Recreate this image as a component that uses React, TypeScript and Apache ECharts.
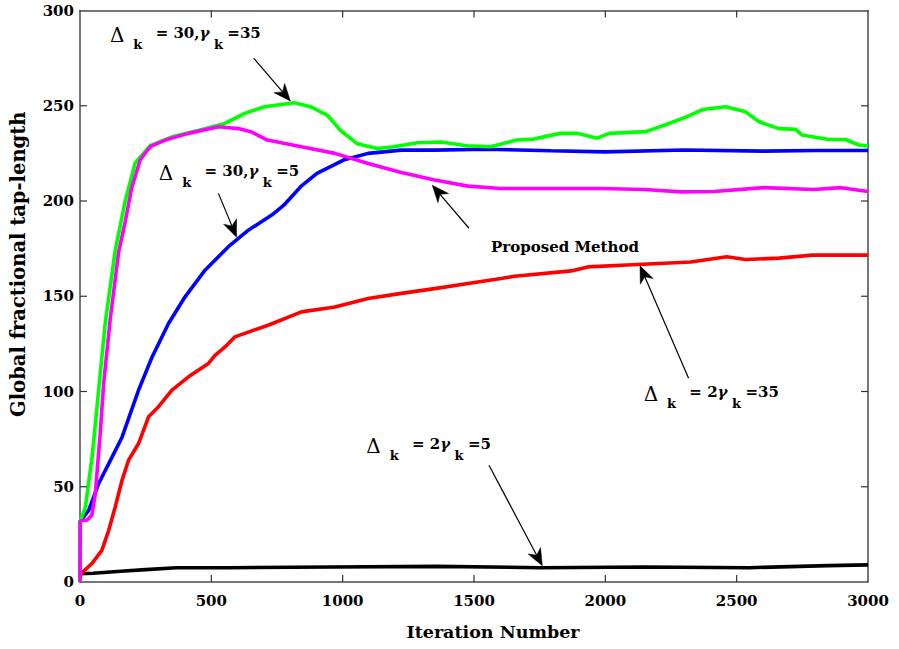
import React, { useEffect, useRef } from "react";
import * as echarts from "echarts";

// ---- data ----
const xTicks = { min: 0, max: 3000, interval: 500 };
const yTicks = { min: 0, max: 300, interval: 50 };

const proposedIter = [0, 1, 27, 45, 58, 77, 90, 115, 147, 172, 197, 229, 267, 324, 413, 527, 603, 650, 713, 843, 970, 1097, 1223, 1350, 1477, 1603, 1730, 1983, 2150, 2287, 2413, 2603, 2793, 2897, 3000];
const proposedVal = [0, 32, 32.5, 35, 46, 78, 104, 138, 173, 189, 207, 221.5, 228.5, 232, 235.5, 239, 238, 236.4, 232, 228.5, 225, 219.7, 215, 211, 207.8, 206.6, 206.6, 206.6, 206, 204.8, 205, 207, 206, 207, 205];

const g30_35Iter = [0, 1, 20, 46, 71, 96, 134, 172, 210, 267, 350, 450, 551, 627, 703, 815, 878, 942, 992, 1056, 1132, 1195, 1284, 1373, 1474, 1562, 1663, 1727, 1828, 1892, 1968, 2015, 2154, 2230, 2306, 2370, 2458, 2534, 2585, 2661, 2725, 2749, 2851, 2914, 2965, 3000];
const g30_35Val = [0, 32, 39, 65.6, 100.7, 136, 174, 200, 220, 229, 233.7, 237, 240.7, 246, 249.5, 251.6, 249.5, 245, 237, 230, 227.6, 228.5, 230.6, 231, 229, 228.5, 232, 232.5, 235.5, 235.5, 233, 235.5, 236.4, 240, 244, 248, 249.5, 246.8, 241.6, 238, 237.6, 234.6, 232.3, 232.3, 229.4, 229];

const g30_5Iter = [0, 1, 33, 71, 109, 160, 223, 274, 337, 400, 476, 565, 641, 730, 776, 840, 902, 1003, 1097, 1223, 1350, 1540, 1793, 2000, 2300, 2600, 2800, 3000];
const g30_5Val = [0, 32, 37.6, 51.7, 62, 76, 100.7, 118, 135.7, 149.7, 163.7, 176, 184.7, 192.6, 197.8, 207.5, 214.5, 221.5, 225, 226.7, 226.7, 227.2, 226.4, 225.8, 226.8, 226.2, 226.5, 226.5];

const g2_35Iter = [0, 1, 8, 46, 83, 109, 134, 160, 185, 223, 261, 299, 350, 413, 489, 514, 552, 590, 716, 843, 970, 1097, 1223, 1350, 1477, 1603, 1654, 1870, 1933, 2123, 2325, 2462, 2534, 2661, 2787, 3000];
const g2_35Val = [0, 4, 5, 9.8, 16.6, 27, 39.4, 53.4, 64, 72.7, 86.7, 92, 100.7, 107.7, 114.7, 119, 123.4, 128.7, 134.8, 141.8, 144.4, 148.8, 151.5, 154, 156.7, 159.3, 160.5, 163.3, 165.4, 166.7, 168, 170.7, 169.3, 170, 171.6, 171.6];

const g2_5Iter = [0, 1, 50, 168, 250, 367, 565, 961, 1358, 1755, 2152, 2548, 2847, 3000];
const g2_5Val = [0, 4.4, 4.6, 5.8, 6.5, 7.5, 7.5, 7.9, 8.2, 7.5, 7.9, 7.5, 8.6, 9];

// annotations: text anchor (left, middle), arrow tail and arrow tip, all in data coords
const annotations = [
  { label: "d30_35", text: [114, 285.5], tail: [661, 275], tip: [801, 252.5] },
  { label: "d30_5", text: [300, 213], tail: [527, 204], tip: [596, 181] },
  { label: "proposed", text: [1565, 176], tail: [1481, 185.7], tip: [1341, 208.3] },
  { label: "d2_35", text: [2146, 97], tail: [2317, 107], tip: [2132, 166] },
  { label: "d2_5", text: [1090, 69.7], tail: [1557, 61.3], tip: [1760, 8.5] },
];

const labelTexts: Record<string, string> = {
  d30_35: "{d|Δ}{sp|  }{s|k}{sp|   }{n|= 30,}{g|γ}{sp| }{s|k}{sp| }{n|=35}",
  d30_5: "{d|Δ}{sp|  }{s|k}{sp|   }{n|= 30,}{g|γ}{sp| }{s|k}{sp| }{n|=5}",
  d2_35: "{d|Δ}{sp|  }{s|k}{sp|   }{n|= 2}{g|γ}{sp| }{s|k}{sp| }{n|=35}",
  d2_5: "{d|Δ}{sp|  }{s|k}{sp|   }{n|= 2}{g|γ}{sp| }{s|k}{sp| }{n|=5}",
  proposed: "{p|Proposed Method}",
};

const zip = (a: number[], b: number[]) => a.map((v, i) => [v, b[i]]);

const FONT = "DejaVu Serif";

export default function App() {
  const ref = useRef<HTMLDivElement>(null);
  useEffect(() => {
    if (!ref.current) return;
    const chart = echarts.init(ref.current, undefined, { renderer: "svg" });
    const axisLineStyle = { color: "#4a4a4a", width: 1.5 };
    const lineSeries = (name: string, data: number[][], color: string) => ({
      name,
      type: "line",
      data,
      showSymbol: false,
      symbol: "none",
      smooth: false,
      lineStyle: { color, width: 3.6 },
      xAxisIndex: 0,
      yAxisIndex: 0,
    });
    const baseX = {
      type: "value",
      min: xTicks.min,
      max: xTicks.max,
      interval: xTicks.interval,
      axisLine: { show: true, onZero: false, lineStyle: axisLineStyle },
      axisTick: { show: false },
      splitLine: { show: false },
    };
    const baseY = {
      type: "value",
      min: yTicks.min,
      max: yTicks.max,
      interval: yTicks.interval,
      axisLine: { show: true, onZero: false, lineStyle: axisLineStyle },
      axisTick: { show: false },
      splitLine: { show: false },
    };
    chart.setOption({
      animation: false,
      backgroundColor: "#ffffff",
      grid: { left: 78, right: 31, top: 10.5, bottom: 67, containLabel: false },
      xAxis: [
        {
          ...baseX,
          position: "bottom",
          name: "Iteration Number",
          nameLocation: "middle",
          nameGap: 41,
          nameTextStyle: {
            fontFamily: FONT,
            fontWeight: "bold",
            fontSize: 17.5,
            color: "#000",
            padding: [0, 0, 0, 38],
          },
          axisLabel: {
            fontFamily: FONT,
            fontWeight: "bold",
            fontSize: 15,
            color: "#000",
            margin: 11,
            formatter: (v: number) => String(v),
          },
        },
        { ...baseX, position: "top", axisLabel: { show: false } },
      ],
      yAxis: [
        {
          ...baseY,
          position: "left",
          name: "Global fractional tap-length",
          nameLocation: "middle",
          nameGap: 52,
          nameTextStyle: {
            fontFamily: FONT,
            fontWeight: "bold",
            fontSize: 19.5,
            color: "#000",
            padding: [0, 0, 0, 64],
          },
          axisLabel: {
            fontFamily: FONT,
            fontWeight: "bold",
            fontSize: 15,
            color: "#000",
            margin: 6,
            formatter: (v: number) => String(v),
          },
        },
        { ...baseY, position: "right", axisLabel: { show: false } },
      ],
      series: [
        lineSeries("Δk=2, γk=5", zip(g2_5Iter, g2_5Val), "#000000"),
        lineSeries("Δk=2, γk=35", zip(g2_35Iter, g2_35Val), "#ff0000"),
        lineSeries("Δk=30, γk=5", zip(g30_5Iter, g30_5Val), "#0000ff"),
        lineSeries("Δk=30, γk=35", zip(g30_35Iter, g30_35Val), "#00ff00"),
        lineSeries("Proposed Method", zip(proposedIter, proposedVal), "#ff00ff"),
      ],
    });

    const toPx = (p: number[]) => chart.convertToPixel({ xAxisIndex: 0, yAxisIndex: 0 }, p) as number[];
    const graphics: any[] = [];

    // inside tick marks on all four sides, placed through the axes' scales
    const TL = 7;
    const tickLine = (x1: number, y1: number, x2: number, y2: number) =>
      graphics.push({
        type: "line",
        z: 50,
        shape: { x1, y1, x2, y2 },
        style: { stroke: "#333333", lineWidth: 1.2 },
      });
    const [, yBottom] = toPx([xTicks.min, yTicks.min]);
    const [, yTop] = toPx([xTicks.min, yTicks.max]);
    const [xLeft] = toPx([xTicks.min, yTicks.min]);
    const [xRight] = toPx([xTicks.max, yTicks.min]);
    for (let v = xTicks.min + xTicks.interval; v < xTicks.max; v += xTicks.interval) {
      const [x] = toPx([v, yTicks.min]);
      tickLine(x, yBottom, x, yBottom - TL);
      tickLine(x, yTop, x, yTop + TL);
    }
    for (let v = yTicks.min + yTicks.interval; v < yTicks.max; v += yTicks.interval) {
      const [, y] = toPx([xTicks.min, v]);
      tickLine(xLeft, y, xLeft + TL, y);
      tickLine(xRight, y, xRight - TL, y);
    }

    const rich = {
      d: { fontFamily: FONT, fontSize: 20, fontWeight: "normal", lineHeight: 16, verticalAlign: "top", color: "#000" },
      s: { fontFamily: FONT, fontSize: 13, fontWeight: "bold", lineHeight: 12, verticalAlign: "bottom", color: "#000" },
      n: { fontFamily: FONT, fontSize: 15, fontWeight: "bold", lineHeight: 24, verticalAlign: "top", color: "#000" },
      g: { fontFamily: FONT, fontSize: 15, fontStyle: "italic", fontWeight: "bold", lineHeight: 24, verticalAlign: "top", color: "#000" },
      sp: { fontFamily: FONT, fontSize: 14, lineHeight: 26, color: "#000" },
      p: { fontFamily: FONT, fontSize: 15, fontWeight: "bold", lineHeight: 20, color: "#000" },
    };
    annotations.forEach((a) => {
      const [tx, ty] = toPx(a.text);
      graphics.push({
        type: "text",
        x: tx,
        y: ty,
        z: 100,
        style: {
          text: labelTexts[a.label],
          rich,
          fontFamily: FONT,
          fontSize: 14,
          lineHeight: 26,
          verticalAlign: "middle",
          align: "left",
          fill: "#000",
        },
      });
      const [sx, sy] = toPx(a.tail);
      const [px, py] = toPx(a.tip);
      const dx = px - sx;
      const dy = py - sy;
      const len = Math.sqrt(dx * dx + dy * dy);
      const ux = dx / len;
      const uy = dy / len;
      const nx = -uy;
      const ny = ux;
      const L = 17;
      const W = 7;
      const notch = 5;
      const bx = px - ux * (L - notch);
      const by = py - uy * (L - notch);
      graphics.push({
        type: "line",
        z: 100,
        shape: { x1: sx, y1: sy, x2: bx, y2: by },
        style: { stroke: "#000", lineWidth: 1.2 },
      });
      graphics.push({
        type: "polygon",
        z: 100,
        shape: {
          points: [
            [px, py],
            [px - ux * L + nx * W, py - uy * L + ny * W],
            [bx, by],
            [px - ux * L - nx * W, py - uy * L - ny * W],
          ],
        },
        style: { fill: "#000", stroke: "#000", lineWidth: 0.5 },
      });
    });
    chart.setOption({ graphic: graphics });
    return () => chart.dispose();
  }, []);
  return (
    <div
      ref={ref}
      style={{ position: "fixed", left: 0, top: 0, width: 899, height: 649, background: "#fff" }}
    />
  );
}
